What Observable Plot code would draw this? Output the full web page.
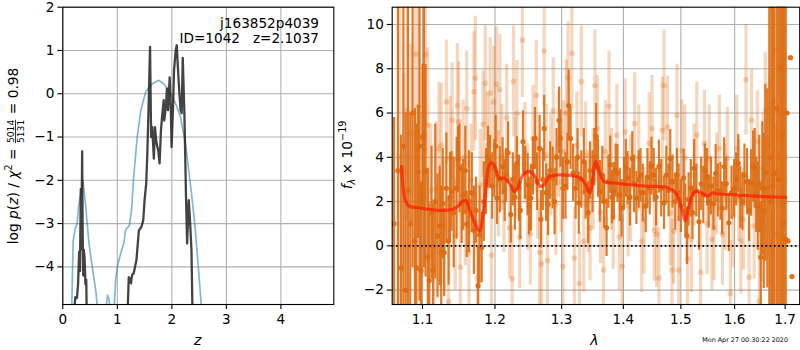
<!DOCTYPE html>
<html><head><meta charset="utf-8">
<script src="https://cdn.jsdelivr.net/npm/d3@7"></script>
<script src="https://cdn.jsdelivr.net/npm/@observablehq/plot@0.6"></script>
<style>
body{margin:0;background:#fff;}
#wrap{position:relative;width:800px;height:350px;font-family:"DejaVu Sans",sans-serif;}
#wrap svg{position:absolute;top:0;}
</style></head><body><div id="wrap"></div>
<script>
// ---------- left panel: log p(z) ----------
const zBlue = [0.16,0.19,0.23,0.26,0.29,0.33,0.37,0.42,0.48,0.54,0.61,0.65,0.72,0.79,0.82,0.85,0.88,0.93,0.97,1.00,1.06,1.12,1.15,1.18,1.22,1.26,1.30,1.365,1.43,1.52,1.64,1.76,1.85,1.945,2.07,2.16,2.25,2.34,2.42,2.48,2.54,2.58];
const lpBlue = [-5.2,-3.4,-3.11,-3.02,-2.6,-2.3,-2.0,-2.6,-3.46,-4.0,-4.6,-5.2,-5.8,-5.0,-4.65,-4.75,-5.4,-5.2,-4.3,-4.0,-3.7,-3.45,-3.16,-3.1,-3.05,-2.7,-1.93,-1.0,-0.39,0.04,0.23,0.31,0.23,0.08,-0.23,-0.54,-1.15,-2.08,-3.0,-3.93,-4.89,-5.6];
const zBlack = [0.21,0.23,0.26,0.28,0.30,0.315,0.33,0.34,0.355,0.365,0.375,0.385,0.40,0.415,0.43,0.44,1.19,1.21,1.23,1.25,1.27,1.30,1.35,1.395,1.44,1.475,1.50,1.53,1.55,1.57,1.60,1.62,1.64,1.67,1.69,1.72,1.75,1.775,1.80,1.82,1.85,1.86,1.89,1.91,1.93,1.96,1.98,1.995,2.02,2.04,2.07,2.09,2.11,2.135,2.16,2.18,2.20,2.23,2.26,2.28,2.31,2.33,2.36,2.38];
const lpBlack = [-5.0,-4.7,-4.72,-4.4,-3.65,-4.1,-2.2,-3.6,-1.33,-3.3,-4.2,-3.6,-3.8,-4.4,-4.3,-5.2,-5.0,-4.24,-4.27,-4.38,-4.19,-4.15,-3.85,-3.16,-3.08,-2.93,-2.46,-2.07,-1.38,-0.46,1.08,-1.0,-0.77,-1.5,-0.77,-1.15,-1.31,-1.61,-0.85,-0.54,-0.15,-0.62,-0.31,0.12,-0.38,0.38,-0.31,-1.23,-0.38,0.54,1.0,1.12,0.62,0.08,-0.38,-0.45,0.83,-0.46,-2.39,-3.46,-2.46,-2.85,-3.62,-5.2];
const zTicks = [0,1,2,3,4];
const lpTicks = [-4,-3,-2,-1,0,1,2];

// ---------- right panel: spectrum ----------
const specLam = [1.063,1.068,1.072,1.075,1.078,1.081,1.084,1.087,1.090,1.092,1.094,1.096,1.098,1.100,1.102,1.104,1.107,1.109,1.112,1.114,1.117,1.120,1.123,1.125,1.127,1.129,1.132,1.135,1.137,1.139,1.142,1.146,1.148,1.150,1.153,1.155,1.158,1.160,1.163,1.167,1.170,1.173,1.176,1.178,1.181,1.184,1.187,1.190,1.193,1.196,1.199,1.201,1.203,1.207,1.211,1.214,1.216,1.219,1.223,1.226,1.229,1.232,1.235,1.237,1.241,1.244,1.248,1.250,1.253,1.256,1.259,1.262,1.266,1.268,1.271,1.273,1.276,1.279,1.282,1.286,1.289,1.292,1.296,1.298,1.302,1.306,1.309,1.311,1.314,1.318,1.322,1.325,1.327,1.331,1.335,1.338,1.342,1.345,1.349,1.352,1.355,1.358,1.361,1.365,1.368,1.372,1.375,1.378,1.381,1.384,1.387,1.390,1.394,1.397,1.401,1.404,1.407,1.411,1.415,1.418,1.422,1.426,1.429,1.433,1.438,1.441,1.445,1.448,1.452,1.456,1.461,1.465,1.470,1.474,1.478,1.481,1.485,1.490,1.493,1.496,1.500,1.505,1.508,1.511,1.514,1.518,1.521,1.524,1.528,1.533,1.537,1.541,1.544,1.548,1.551,1.555,1.560,1.564,1.568,1.573,1.576,1.580,1.584,1.589,1.594,1.599,1.603,1.607,1.611,1.615,1.619,1.624,1.628,1.632,1.636,1.639,1.642,1.645,1.648,1.651,1.654,1.657,1.660,1.664,1.668,1.672,1.675,1.678,1.683,1.687,1.691,1.694,1.697,1.701,1.704,1.706,1.711,1.714];
const specFlux = [1.0,3.4,-1.0,4.5,-2.0,2.5,1.0,6.0,0.22,-1.0,3.33,4.5,-1.12,4.9,5.0,3.39,-0.5,-1.57,1.5,-1.1,2.0,0.45,0.9,-0.3,1.9,-0.3,2.6,0.22,2.2,2.46,1.5,2.6,3.9,3.5,1.9,2.3,3.4,0.97,2.0,2.4,0.7,1.6,-1.8,0.5,-0.07,2.0,2.9,4.0,3.8,2.7,3.5,4.5,2.16,3.0,3.58,2.5,3.2,4.2,1.42,3.0,2.2,3.73,2.6,1.6,4.7,3.3,2.76,1.8,2.16,3.6,4.85,2.9,4.4,1.2,3.0,5.3,2.4,1.87,3.4,3.06,2.0,4.0,5.67,4.85,2.6,2.7,3.8,6.34,4.85,3.3,2.6,4.0,1.94,3.0,3.8,2.5,1.5,3.4,2.9,4.0,4.93,3.5,2.46,3.2,2.0,0.82,2.9,3.66,2.2,2.46,3.4,3.28,2.3,1.7,2.8,3.5,3.06,2.2,3.95,2.8,2.16,3.0,3.2,2.4,1.79,3.1,2.6,3.6,3.2,2.2,3.58,2.6,1.94,3.2,2.5,3.95,2.9,2.0,3.2,2.4,1.8,3.06,1.6,0.45,2.1,2.6,1.5,3.5,2.5,1.1,2.8,2.3,3.4,3.1,2.0,2.7,1.9,3.28,2.5,2.46,1.7,3.58,2.8,1.04,2.4,2.6,3.0,3.73,2.2,2.0,3.2,2.9,1.6,2.84,3.6,3.5,2.3,1.79,2.8,-0.52,2.6,1.57,3.3,2.6,4.0,2.0,2.7,3.28,6.2,3.0,8.06,5.0,1.0,0.3,6.0,0.22,8.5,-1.39];
const specErr = [4.8,7.5,6.0,9.0,8.0,9.0,5.0,7.0,6.0,6.5,3.0,7.0,4.0,3.3,6.0,4.8,4.0,3.5,3.0,3.0,3.5,2.8,2.7,3.0,2.5,2.0,2.5,2.0,2.0,1.8,2.5,2.3,1.5,2.0,1.8,1.6,2.0,1.5,2.3,1.8,2.0,1.5,1.8,2.2,1.6,1.8,1.5,1.4,1.2,1.5,1.3,1.4,1.2,1.5,1.3,1.4,1.2,1.4,1.3,1.2,1.5,1.2,1.5,1.3,1.4,1.2,1.4,1.3,1.5,1.3,1.4,1.3,1.5,1.3,1.4,1.5,1.3,1.4,1.3,1.4,1.5,1.3,1.5,1.3,1.4,1.5,1.3,1.6,1.4,1.3,1.4,1.3,1.4,1.3,1.5,1.3,1.4,1.3,1.4,1.3,1.5,1.3,1.4,1.3,1.2,1.3,1.2,1.3,1.2,1.3,1.2,1.3,1.2,1.3,1.2,1.3,1.2,1.3,1.2,1.3,1.2,1.3,1.2,1.3,1.2,1.3,1.2,1.3,1.2,1.3,1.2,1.3,1.2,1.3,1.2,1.3,1.2,1.3,1.2,1.3,1.2,1.3,1.2,1.3,1.2,1.3,1.2,1.3,1.2,1.3,1.2,1.3,1.2,1.3,1.2,1.3,1.2,1.3,1.2,1.3,1.2,1.3,1.2,1.3,1.2,1.3,1.2,1.3,1.4,1.3,1.4,1.5,1.4,1.5,1.6,1.8,1.7,2.0,2.2,2.5,3.0,3.5,4.0,4.5,8.0,9.0,10.0,12.0,12.0,14.0,15.0,15.0,16.0,16.0];

const spec2Lam = [1.070,1.076,1.080,1.085,1.091,1.095,1.099,1.104,1.107,1.111,1.115,1.118,1.122,1.125,1.129,1.132,1.135,1.137,1.140,1.144,1.147,1.149,1.151,1.155,1.158,1.160,1.163,1.166,1.170,1.172,1.175,1.179,1.183,1.186,1.189,1.193,1.195,1.198,1.202,1.205,1.207,1.210,1.213,1.217,1.221,1.225,1.227,1.230,1.232,1.236,1.240,1.244,1.248,1.252,1.256,1.261,1.263,1.266,1.269,1.273,1.276,1.278,1.283,1.287,1.291,1.295,1.299,1.302,1.303,1.307,1.310,1.316,1.320,1.324,1.328,1.331,1.335,1.338,1.342,1.345,1.350,1.353,1.357,1.362,1.367,1.370,1.376,1.380,1.383,1.389,1.393,1.398,1.403,1.408,1.412,1.419,1.426,1.431,1.435,1.444,1.449,1.453,1.457,1.461,1.467,1.470,1.476,1.481,1.484,1.487,1.493,1.496,1.502,1.507,1.512,1.519,1.524,1.529,1.536,1.543,1.548,1.552,1.557,1.561,1.566,1.571,1.577,1.582,1.586,1.592,1.597,1.604,1.608,1.612,1.617,1.622,1.628,1.633,1.638,1.644,1.648,1.652,1.656,1.660,1.664,1.668,1.672,1.676,1.678,1.682,1.685,1.689,1.693,1.697,1.700];
const spec2Flux = [4.0,3.3,6.1,5.1,8.66,6.3,2.0,8.63,5.45,2.5,-0.9,2.6,4.4,4.55,1.0,6.5,-2.5,3.96,5.67,0.5,6.34,5.6,-0.97,3.96,1.6,6.2,-0.3,3.0,6.97,7.57,-1.46,2.76,5.5,7.34,4.55,6.9,-0.42,6.5,7.3,2.8,7.06,4.0,2.0,5.8,0.82,-1.49,7.43,3.5,5.97,0.37,9.3,4.18,2.2,0.52,4.85,6.79,2.6,-0.3,-0.82,8.8,4.1,-0.67,3.66,6.1,1.87,4.6,2.9,-0.93,4.25,6.0,7.6,8.7,-0.55,4.55,-1.69,7.42,0.2,4.1,2.0,0.82,3.0,7.24,5.3,1.5,-1.09,4.25,6.3,3.0,1.34,5.0,0.4,-0.93,5.15,1.8,2.6,5.52,3.96,0.2,1.12,4.63,5.3,0.7,0.52,-1.46,5.22,7.24,5.37,1.5,-1.09,0.67,5.9,-1.09,4.3,3.96,-0.6,0.3,3.2,5.0,-1.19,4.63,1.0,3.96,0.3,0.82,2.8,4.4,0.52,2.2,3.96,-2.16,1.3,4.4,2.5,0.22,1.2,7.5,-1.42,5.67,0.9,4.7,-2.5,0.67,3.5,6.12,2.2,4.55,-1.57,3.0,6.57,0.5,8.88,4.0,6.72,10.5,2.0];
const spec2Err = [8.0,4.5,5.0,4.0,5.0,4.5,4.0,4.5,3.5,3.0,3.0,3.0,3.0,2.8,3.0,2.8,2.5,2.8,2.6,2.5,2.8,2.7,2.5,2.6,2.5,2.6,2.4,2.5,2.7,2.8,2.6,2.5,2.4,2.6,2.4,2.5,2.4,2.5,2.6,2.4,2.5,2.4,2.3,2.4,2.3,2.4,2.5,2.3,2.4,2.3,2.6,2.3,2.4,2.3,2.4,2.5,2.3,2.4,2.3,2.5,2.3,2.4,2.3,2.4,2.3,2.4,2.3,2.4,2.3,2.4,2.5,2.5,2.3,2.4,2.3,2.5,2.3,2.4,2.3,2.4,2.3,2.5,2.4,2.3,2.4,2.3,2.5,2.3,2.4,2.3,2.4,2.3,2.4,2.3,2.4,2.3,2.4,2.3,2.4,2.3,2.4,2.3,2.4,2.3,2.4,2.5,2.3,2.4,2.3,2.4,2.3,2.4,2.3,2.4,2.3,2.4,2.3,2.4,2.3,2.4,2.3,2.4,2.3,2.4,2.3,2.4,2.3,2.4,2.3,2.4,2.3,2.4,2.3,2.4,2.3,2.5,2.4,2.3,2.4,2.3,2.4,2.3,2.5,2.6,2.8,3.0,3.0,3.5,4.0,5.0,6.0,7.0,8.0,9.0,9.0];

const modelLam = [1.0726,1.0752,1.0783,1.0826,1.0935,1.1115,1.1252,1.139,1.148,1.155,1.160,1.164,1.171,1.178,1.183,1.187,1.192,1.196,1.201,1.206,1.213,1.221,1.228,1.233,1.241,1.251,1.259,1.267,1.273,1.281,1.293,1.314,1.330,1.338,1.345,1.349,1.354,1.360,1.368,1.384,1.412,1.441,1.470,1.484,1.493,1.502,1.508,1.514,1.523,1.530,1.539,1.549,1.558,1.568,1.592,1.625,1.658,1.701];
const modelFlux = [3.58,2.46,2.0,1.79,1.72,1.64,1.6,1.64,1.79,2.04,2.0,1.64,1.04,0.67,1.42,2.6,3.66,3.73,3.5,3.06,3.06,2.84,2.46,2.6,3.2,3.36,3.13,2.69,2.76,3.13,3.2,3.18,3.06,2.76,2.39,2.9,3.8,3.36,2.9,2.84,2.76,2.69,2.67,2.54,2.31,1.64,1.12,1.72,2.39,2.46,2.39,2.24,2.39,2.34,2.31,2.27,2.22,2.19];
const lamTicks = [1.1,1.2,1.3,1.4,1.5,1.6,1.7];
const fluxTicks = [-2,0,2,4,6,8,10];

// ---------- build ----------
const fmt = d => d < 0 ? "\u2212" + Math.abs(d) : String(d);
const FS = "13.6px";
const GRID = {stroke:"#b0b0b0", strokeOpacity:1, strokeWidth:1.1};
const ORANGE = "#dd6c12";

const blue = zBlue.map((z,i)=>({z, p: lpBlue[i]}));
const black = zBlack.map((z,i)=>({z, p: lpBlack[i]}));

const left = Plot.plot({
  width: 340, height: 350,
  marginLeft: 62.3, marginRight: 6.7, marginTop: 6.7, marginBottom: 46,
  style: {fontFamily:"DejaVu Sans", fontSize: FS, color:"#000", background:"transparent", overflow:"visible"},
  x: {domain:[0,4.97]},
  y: {domain:[-4.87,2]},
  marks: [
    Plot.gridX({ticks: zTicks, ...GRID}),
    Plot.gridY({ticks: lpTicks, ...GRID}),
    Plot.line(blue, {x:"z", y:"p", stroke:"#1f77b4", strokeOpacity:0.55, strokeWidth:1.7, clip:true}),
    Plot.line(black, {x:"z", y:"p", stroke:"#222", strokeOpacity:0.85, strokeWidth:2.3, clip:true}),
    Plot.frame({stroke:"#000", strokeWidth:1.1}),
    Plot.axisX({ticks: zTicks, tickSize:4.9, tickPadding:4.5, tickFormat: fmt, label:null, strokeWidth:1.1}),
    Plot.axisY({ticks: lpTicks, tickSize:4.9, tickPadding:3.5, tickFormat: fmt, label:null, strokeWidth:1.1})
  ]
});
left.style.left = "0px";

const dark = specLam.map((l,i)=>({l, v: specFlux[i], e: specErr[i]}));
const light = spec2Lam.map((l,i)=>({l, v: spec2Flux[i], e: spec2Err[i]}));
const model = modelLam.map((l,i)=>({l, v: modelFlux[i]}));

const right = Plot.plot({
  width: 460, height: 350,
  marginLeft: 51.7, marginRight: 0.8, marginTop: 6.7, marginBottom: 46,
  style: {fontFamily:"DejaVu Sans", fontSize: FS, color:"#000", background:"transparent", overflow:"visible"},
  x: {type:"log", domain:[1.0607,1.730]},
  y: {domain:[-2.65,10.78]},
  marks: [
    Plot.gridX({ticks: lamTicks, ...GRID}),
    Plot.gridY({ticks: fluxTicks, ...GRID}),
    Plot.ruleX(light, {x:"l", y1: d=>d.v-d.e, y2: d=>d.v+d.e, stroke:ORANGE, strokeOpacity:0.28, strokeWidth:3.2, clip:true}),
    Plot.dot(light, {x:"l", y:"v", r:2.8, fill:ORANGE, fillOpacity:0.28, clip:true}),
    Plot.ruleX(dark, {x:"l", y1: d=>d.v-d.e, y2: d=>d.v+d.e, stroke:ORANGE, strokeOpacity:0.9, strokeWidth:2.2, clip:true}),
    Plot.dot(dark, {x:"l", y:"v", r:2.6, fill:ORANGE, fillOpacity:0.95, clip:true}),
    Plot.line(model, {x:"l", y:"v", stroke:"#ff1a00", strokeOpacity:0.7, strokeWidth:3.2, curve:"catmull-rom", clip:true}),
    Plot.ruleY([0], {stroke:"#000", strokeWidth:1.6, strokeDasharray:"1.6,2.6"}),
    Plot.frame({stroke:"#000", strokeWidth:1.1}),
    Plot.axisX({ticks: lamTicks, tickSize:4.9, tickPadding:4.5, tickFormat: d3.format(".1f"), label:null, strokeWidth:1.1}),
    Plot.axisY({ticks: fluxTicks, tickSize:4.9, tickPadding:3.5, tickFormat: fmt, label:null, strokeWidth:1.1})
  ]
});
right.style.left = "340px";

const wrap = document.getElementById("wrap");
wrap.appendChild(left);
wrap.appendChild(right);

// overlay text
const ov = d3.select(wrap).append("svg").attr("width",800).attr("height",350)
  .style("left","0px").style("font-family","DejaVu Sans").style("pointer-events","none");

ov.append("text").attr("x",319).attr("y",28).attr("text-anchor","end").attr("font-size",FS).attr("fill","#000").text("j163852p4039");
ov.append("text").attr("x",319).attr("y",43).attr("text-anchor","end").attr("font-size",FS).attr("fill","#000").style("white-space","pre").text("ID=1042   z=2.1037");

ov.append("text").attr("x",197.7).attr("y",345).attr("text-anchor","middle").attr("font-size","14px").attr("font-style","italic").text("z");
ov.append("text").attr("x",594.3).attr("y",345).attr("text-anchor","middle").attr("font-size","14px").attr("font-style","italic").text("λ");

ov.append("text").attr("x",788).attr("y",342).attr("text-anchor","end").attr("font-size","6.4px").attr("fill","#000").text("Mon Apr 27 00:30:22 2020");

// right y label
{
  const t = ov.append("text").attr("transform","translate(352,155) rotate(-90)").attr("text-anchor","middle").attr("font-size","13.8px");
  t.append("tspan").attr("font-style","italic").text("f");
  t.append("tspan").attr("font-size","9.6px").attr("font-style","italic").attr("dy","3").text("λ");
  t.append("tspan").attr("dy","-3").text(" × 10");
  t.append("tspan").attr("font-size","9.6px").attr("dy","-6").text("\u221219");
}
// left y label with fraction
{
  const g = ov.append("g").attr("transform","translate(18,156) rotate(-90)").attr("font-size","13.8px");
  const t1 = g.append("text");
  t1.append("tspan").text("log ");
  t1.append("tspan").attr("font-style","italic").text("p");
  t1.append("tspan").text("(");
  t1.append("tspan").attr("font-style","italic").text("z");
  t1.append("tspan").text(") / ");
  t1.append("tspan").attr("font-style","italic").text("χ");
  t1.append("tspan").attr("font-size","9.6px").attr("dy","-6").text("2");
  t1.append("tspan").attr("dy","6").style("white-space","pre").text(" = ");
  const L1 = t1.node().getComputedTextLength();
  const num = g.append("text").attr("font-size","9.2px").attr("x",L1+1).attr("y",-4).text("5014");
  const fw = num.node().getComputedTextLength();
  g.append("text").attr("font-size","9.2px").attr("x",L1+1).attr("y",5.5).text("5131");
  g.append("line").attr("x1",L1+1).attr("x2",L1+1+fw).attr("y1",-2.5).attr("y2",-2.5).attr("stroke","#000").attr("stroke-width",0.8);
  const t3 = g.append("text").attr("x",L1+fw+2).style("white-space","pre").text(" = 0.98");
  const W = L1 + fw + 2 + t3.node().getComputedTextLength();
  g.selectAll("*").attr("transform", `translate(${-W/2},0)`);
  g.selectAll("text tspan").attr("transform", null);
}
</script></body></html>
